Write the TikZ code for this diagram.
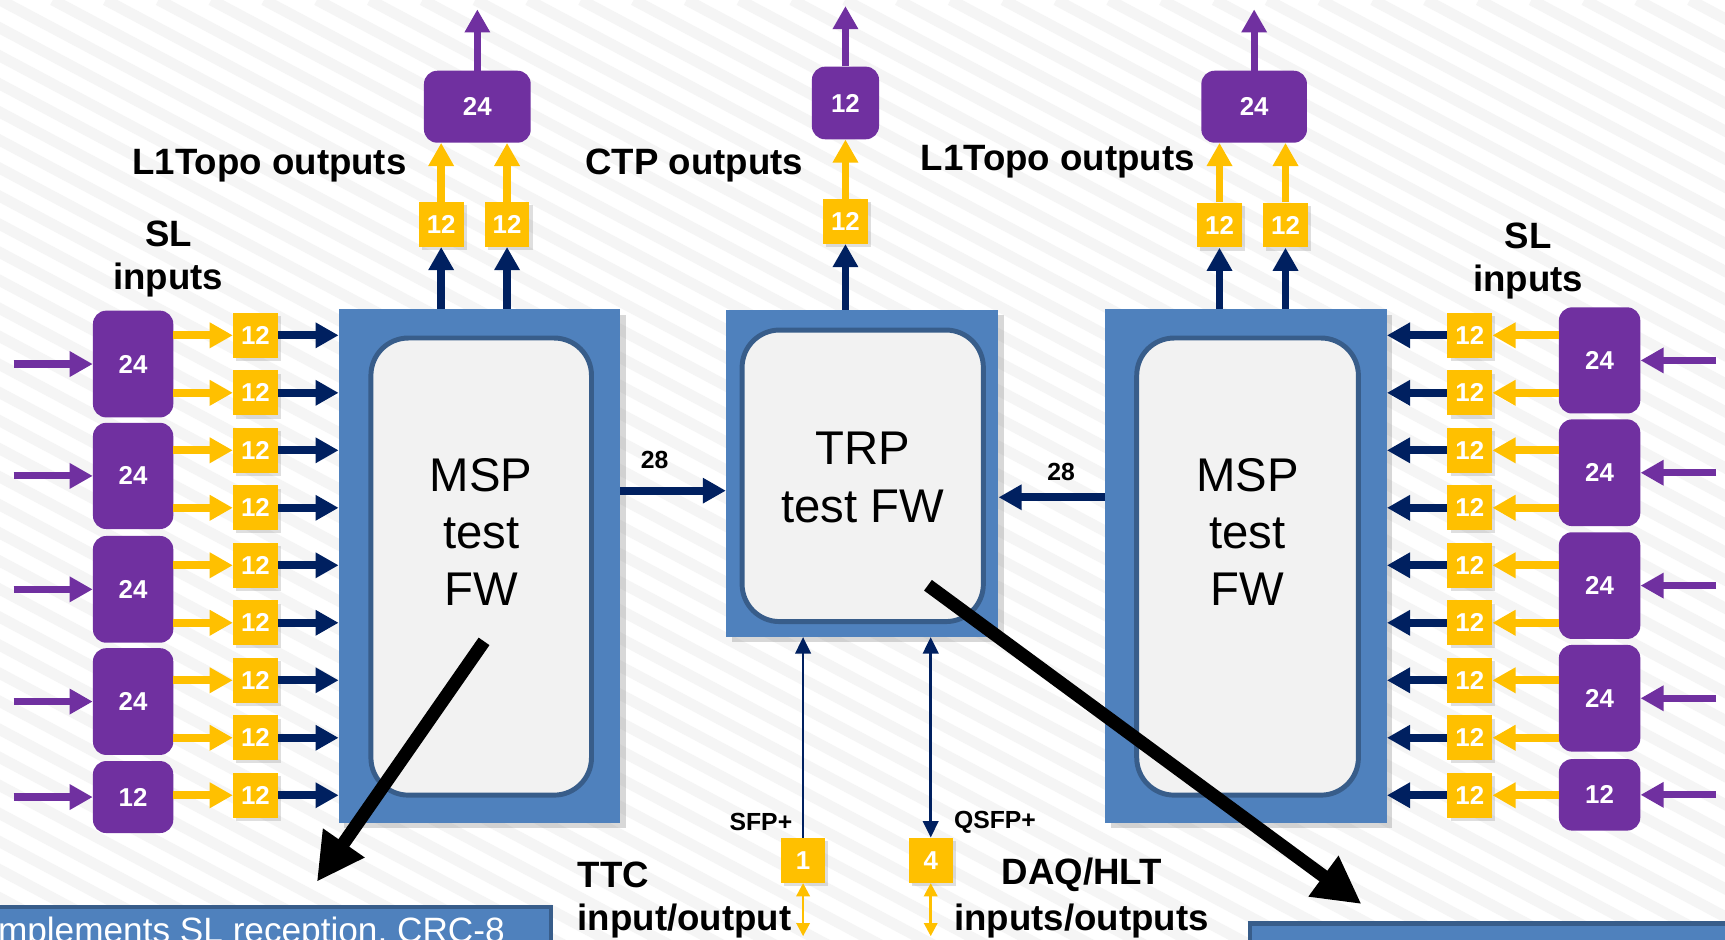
\documentclass[tikz,border=0pt]{standalone}
\usepackage{fontspec}
\setmainfont{Liberation Sans}
\usetikzlibrary{arrows.meta,shadows}

\definecolor{slpurple}{HTML}{7030A0}
\definecolor{slyellow}{HTML}{FFC000}
\definecolor{slnavy}{HTML}{002060}
\definecolor{fpgablue}{HTML}{4F81BD}
\definecolor{fpgaedge}{HTML}{385D8A}
\definecolor{fwfill}{HTML}{F2F2F2}
\definecolor{stripe}{HTML}{F5F5F5}

\tikzset{
  numfont/.style={font=\fontsize{23.5}{28}\selectfont\bfseries},
  lbl/.style={font=\fontsize{33.3}{39.6}\selectfont\bfseries, inner sep=0pt},
  smalllbl/.style={font=\fontsize{22.5}{27}\selectfont\bfseries, inner sep=0pt},
  fwtext/.style={font=\fontsize{43}{52}\selectfont, align=center, inner sep=0pt},
  fiberbox/.style={fill=slpurple, rounded corners=12pt, inner sep=0pt, text=white, numfont, minimum width=73pt},
  linkbox/.style={fill=slyellow, inner sep=0pt, text=white, numfont, minimum width=40.7pt, minimum height=40.7pt,
    drop shadow={shadow xshift=3pt, shadow yshift=-3pt, opacity=.25}},
  fpga/.style={fill=fpgablue, inner sep=0pt, drop shadow={shadow xshift=5pt, shadow yshift=-5pt, opacity=.3}},
  fwbox/.style={fill=fwfill, draw=fpgaedge, line width=4.5pt, rounded corners=34pt, inner sep=0pt},
  tipbig/.style={-{Triangle[length=21pt,width=22pt]}},
  purplearrow/.style={draw=slpurple, line width=6.5pt, tipbig},
  yellowarrow/.style={draw=slyellow, line width=7pt, tipbig},
  navyarrow/.style={draw=slnavy, line width=7pt, tipbig},
  thinnavy/.style={draw=slnavy, line width=2.5pt},
  thinyellow/.style={draw=slyellow, line width=2.5pt},
  pointer/.style={draw=black, line width=12pt, -{Triangle[length=43pt,width=43pt]}},
  notebox/.style={fill=fpgablue, draw=fpgaedge, line width=4pt, inner sep=0pt},
}

\begin{document}
\begin{tikzpicture}[x=1pt,y=-1pt]
\useasboundingbox (0,0) rectangle (1568,854);
\fill[white] (0,0) rectangle (1568,854);

% faint diagonal stripes of the slide background
\begin{scope}
  \clip (0,0) rectangle (1568,854);
  \foreach \i in {-40,...,34}
    \draw[stripe, line width=10pt] (\i*48,0) -- ++(1750,930);
\end{scope}

% ---------------- FPGAs ----------------
\node[fpga, minimum width=255.6pt, minimum height=467pt] (mspL) at (435.8,514.5) {};
\node[fwbox, minimum width=200.5pt, minimum height=415.5pt] (fwL) at (437.4,515) {};
\node[fwtext] (fwLtxt) at (437.4,483.3) {MSP\\test\\FW};

\node[fpga, minimum width=247.5pt, minimum height=297.3pt] (trp) at (783.75,430.2) {};
\node[fwbox, minimum width=219.3pt, minimum height=265pt] (fwC) at (784.2,432.5) {};
\node[fwtext] (fwCtxt) at (784.2,434) {TRP\\test FW};

\node[fpga, minimum width=256pt, minimum height=467pt] (mspR) at (1132.5,514.5) {};
\node[fwbox, minimum width=201.5pt, minimum height=415.5pt] (fwR) at (1134,515) {};
\node[fwtext] (fwRtxt) at (1134,483.3) {MSP\\test\\FW};

% ---------------- left SL inputs ----------------
\foreach \p/\yy/\hh/\n in {1/330.9/97/24, 2/432.6/96.5/24, 3/535.7/97/24, 4/637.7/97/24, 5/724.5/65.4/12}{
  \node[fiberbox, minimum height=\hh pt] (pl\p) at (121,\yy) {\n};
  \coordinate (inl\p) at (12.4,\yy);
  \draw[purplearrow] (inl\p) -- (pl\p.west);
}
\foreach \k/\p in {0/1,1/1,2/2,3/2,4/3,5/3,6/4,7/4,8/5}{
  \node[linkbox] (yl\k) at (232.2,{304.8+52.26*\k}) {12};
  \draw[yellowarrow] (yl\k.west -| pl\p.east) -- (yl\k.west);
  \draw[navyarrow] (yl\k.east) -- (yl\k.east -| mspL.west);
}

% ---------------- right SL inputs ----------------
\foreach \p/\yy/\hh/\n in {1/327.6/96.5/24, 2/429.7/97/24, 3/532.3/97/24, 4/634.7/97/24, 5/722.5/65/12}{
  \node[fiberbox, minimum width=74pt, minimum height=\hh pt] (pr\p) at (1454,\yy) {\n};
  \coordinate (inr\p) at (1560,\yy);
  \draw[purplearrow] (inr\p) -- (pr\p.east);
}
\foreach \k/\p in {0/1,1/1,2/2,3/2,4/3,5/3,6/4,7/4,8/5}{
  \node[linkbox] (yr\k) at (1336,{304.8+52.26*\k}) {12};
  \draw[yellowarrow] (yr\k.east -| pr\p.west) -- (yr\k.east);
  \draw[navyarrow] (yr\k.west) -- (yr\k.west -| mspR.east);
}

% ---------------- outputs to L1Topo and CTP ----------------
\node[linkbox] (tl1) at (401,204) {12};
\node[linkbox] (tl2) at (460.9,204) {12};
\node[fiberbox, minimum width=97pt, minimum height=65.4pt] (tlp) at (433.9,97) {24};
\coordinate (tlout) at (433.9,8.5);
\foreach \t in {tl1,tl2}{
  \draw[navyarrow] (\t.south |- mspL.north) -- (\t.south);
  \draw[yellowarrow] (\t.north) -- (\t.north |- tlp.south);
}
\draw[purplearrow] (tlp.north) -- (tlout);

\node[linkbox] (tc) at (768.5,201.3) {12};
\node[fiberbox, minimum width=61pt, minimum height=66pt] (tcp) at (768.5,93.6) {12};
\coordinate (tcout) at (768.5,5.5);
\draw[navyarrow] (tc.south |- trp.north) -- (tc.south);
\draw[yellowarrow] (tc.north) -- (tcp.south);
\draw[purplearrow] (tcp.north) -- (tcout);

\node[linkbox] (tr1) at (1108.5,204.6) {12};
\node[linkbox] (tr2) at (1168.5,204.6) {12};
\node[fiberbox, minimum width=96pt, minimum height=65.4pt] (trpo) at (1140,97) {24};
\coordinate (trout) at (1140,8.5);
\foreach \t in {tr1,tr2}{
  \draw[navyarrow] (\t.south |- mspR.north) -- (\t.south);
  \draw[yellowarrow] (\t.north) -- (\t.north |- trpo.south);
}
\draw[purplearrow] (trpo.north) -- (trout);

% ---------------- MSP to TRP links ----------------
\draw[navyarrow] (mspL.east |- 0,446) -- (trp.west |- 0,446);
\draw[navyarrow] (mspR.west |- 0,452) -- (trp.east |- 0,452);
\node[smalllbl] (n28l) at (595,418.5) {28};
\node[smalllbl] (n28r) at (964.5,429) {28};

% ---------------- TTC and DAQ/HLT ----------------
\node[linkbox, minimum width=40pt, minimum height=41pt] (sfp) at (730,782) {1};
\node[linkbox, minimum width=40pt, minimum height=41pt] (qsfp) at (846,782) {4};
\draw[thinnavy, -{Triangle[length=15pt,width=14pt]}] (sfp.north) -- (sfp.north |- trp.south);
\draw[thinnavy, {Triangle[length=15pt,width=14pt]}-{Triangle[length=15pt,width=14pt]}] (qsfp.north) -- (qsfp.north |- trp.south);
\coordinate (sfpext) at (730,851);
\coordinate (qsfpext) at (846,851);
\draw[thinyellow, {Triangle[length=12pt,width=12pt]}-{Triangle[length=12pt,width=12pt]}] (sfp.south) -- (sfpext);
\draw[thinyellow, {Triangle[length=12pt,width=12pt]}-{Triangle[length=12pt,width=12pt]}] (qsfp.south) -- (qsfpext);

\node[smalllbl, anchor=base west] (sfplbl) at (663,755) {SFP+};
\node[smalllbl, anchor=base west] (qsfplbl) at (867,753) {QSFP+};
\node[lbl, anchor=base west] (ttc) at (525,807) {TTC};
\node[lbl, anchor=base west] (ttcio) at (525,846) {input/output};
\node[lbl, anchor=base] (daq) at (983.5,804) {DAQ/HLT};
\node[lbl, anchor=base] (daqio) at (983,846) {inputs/outputs};

% ---------------- labels ----------------
\node[lbl, anchor=base] (l1tL) at (245,159) {L1Topo outputs};
\node[lbl, anchor=base] (ctp) at (631,159) {CTP outputs};
\node[lbl, anchor=base] (l1tR) at (961.4,155.2) {L1Topo outputs};
\node[lbl, anchor=base] (slL1) at (153.2,224.2) {SL};
\node[lbl, anchor=base] (slL2) at (152.8,263.6) {inputs};
\node[lbl, anchor=base] (slR1) at (1389,226) {SL};
\node[lbl, anchor=base] (slR2) at (1389,265.2) {inputs};

% ---------------- description boxes ----------------
\begin{scope}
  \clip (0,0) rectangle (1568,854);
  \node[notebox, anchor=north west, minimum width=519pt, minimum height=60pt] (noteL) at (-20,822.5) {};
  \node[font=\fontsize{32}{38}\selectfont, text=white, anchor=base west, inner sep=0pt] (noteLtxt) at (-2,857) {mplements SL reception, CRC-8};
  \node[notebox, anchor=north west, minimum width=460pt, minimum height=60pt] (noteR) at (1134,837.5) {};
\end{scope}

% ---------------- pointers to the descriptions ----------------
\coordinate (ptrLs) at (440,583);
\coordinate (ptrLe) at (288,801.5);
\draw[pointer] (ptrLs) -- (ptrLe);
\coordinate (ptrRs) at (843.5,532);
\coordinate (ptrRe) at (1237.6,821.8);
\draw[pointer] (ptrRs) -- (ptrRe);
\end{tikzpicture}
\end{document}
